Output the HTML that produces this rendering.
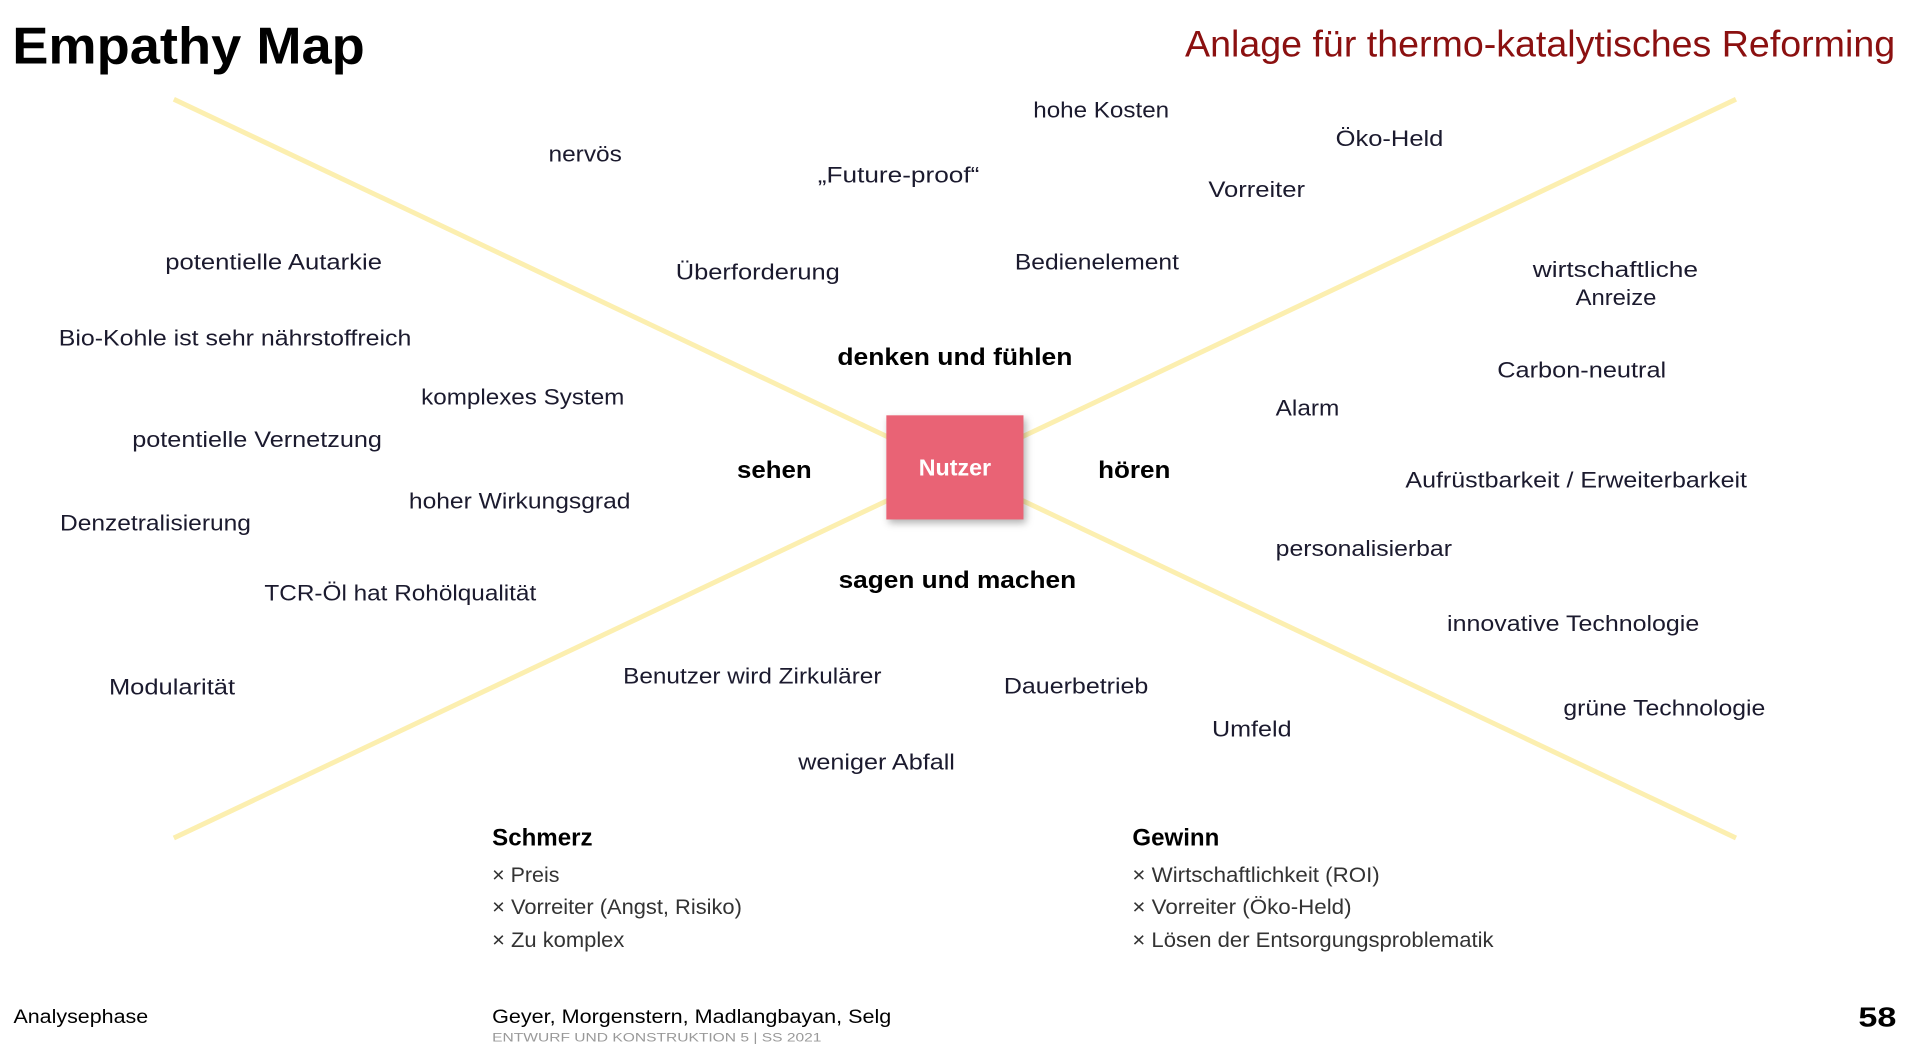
<!DOCTYPE html>
<html><head><meta charset="utf-8"><style>
html,body{margin:0;padding:0;background:#fff;}
svg{display:block;}
text{font-family:"Liberation Sans",sans-serif;fill:#1b1a2e;font-size:18px;}
.b{font-weight:bold;fill:#000;font-size:20px;}
.l{fill:#333;font-size:17px;}
</style></head><body>
<svg width="1919" height="1047" viewBox="0 0 1567.5 854.6" preserveAspectRatio="none" xmlns="http://www.w3.org/2000/svg">
<defs><filter id="sh" x="-20%" y="-20%" width="150%" height="150%"><feDropShadow dx="2" dy="3" stdDeviation="3" flood-color="#000" flood-opacity="0.3"/></filter></defs>
<line x1="142" y1="81" x2="1418" y2="684" stroke="#fcefb0" stroke-width="4"/>
<line x1="142" y1="684" x2="1418" y2="81" stroke="#fcefb0" stroke-width="4"/>
<rect x="724" y="339" width="112" height="85" fill="#e96375" filter="url(#sh)"/>
<text x="780" y="388" text-anchor="middle" style="fill:#fff;font-weight:bold;font-size:19px">Nutzer</text>
<text x="10" y="52" textLength="288" lengthAdjust="spacingAndGlyphs" style="font-weight:bold;font-size:42px;fill:#000">Empathy Map</text>
<text x="968" y="46" textLength="580" lengthAdjust="spacingAndGlyphs" style="font-size:30px;fill:#8b1010">Anlage für thermo-katalytisches Reforming</text>
<text x="448" y="132" textLength="60" lengthAdjust="spacingAndGlyphs">nervös</text>
<text x="668" y="149" textLength="132" lengthAdjust="spacingAndGlyphs">„Future-proof“</text>
<text x="844" y="96" textLength="111" lengthAdjust="spacingAndGlyphs">hohe Kosten</text>
<text x="1091" y="119" textLength="88" lengthAdjust="spacingAndGlyphs">Öko-Held</text>
<text x="987" y="161" textLength="79" lengthAdjust="spacingAndGlyphs">Vorreiter</text>
<text x="135" y="220" textLength="177" lengthAdjust="spacingAndGlyphs">potentielle Autarkie</text>
<text x="552" y="228" textLength="134" lengthAdjust="spacingAndGlyphs">Überforderung</text>
<text x="829" y="220" textLength="134" lengthAdjust="spacingAndGlyphs">Bedienelement</text>
<text x="1252" y="226" textLength="135" lengthAdjust="spacingAndGlyphs">wirtschaftliche</text>
<text x="1287" y="249" textLength="66" lengthAdjust="spacingAndGlyphs">Anreize</text>
<text x="48" y="282" textLength="288" lengthAdjust="spacingAndGlyphs">Bio-Kohle ist sehr nährstoffreich</text>
<text class="b" x="684" y="298" textLength="192" lengthAdjust="spacingAndGlyphs">denken und fühlen</text>
<text x="1223" y="308" textLength="138" lengthAdjust="spacingAndGlyphs">Carbon-neutral</text>
<text x="344" y="330" textLength="166" lengthAdjust="spacingAndGlyphs">komplexes System</text>
<text x="1042" y="339" textLength="52" lengthAdjust="spacingAndGlyphs">Alarm</text>
<text x="108" y="365" textLength="204" lengthAdjust="spacingAndGlyphs">potentielle Vernetzung</text>
<text class="b" x="602" y="390" textLength="61" lengthAdjust="spacingAndGlyphs">sehen</text>
<text class="b" x="897" y="390" textLength="59" lengthAdjust="spacingAndGlyphs">hören</text>
<text x="1148" y="398" textLength="279" lengthAdjust="spacingAndGlyphs">Aufrüstbarkeit / Erweiterbarkeit</text>
<text x="334" y="415" textLength="181" lengthAdjust="spacingAndGlyphs">hoher Wirkungsgrad</text>
<text x="49" y="433" textLength="156" lengthAdjust="spacingAndGlyphs">Denzetralisierung</text>
<text x="1042" y="454" textLength="144" lengthAdjust="spacingAndGlyphs">personalisierbar</text>
<text class="b" x="685" y="480" textLength="194" lengthAdjust="spacingAndGlyphs">sagen und machen</text>
<text x="216" y="490" textLength="222" lengthAdjust="spacingAndGlyphs">TCR-Öl hat Rohölqualität</text>
<text x="1182" y="515" textLength="206" lengthAdjust="spacingAndGlyphs">innovative Technologie</text>
<text x="509" y="558" textLength="211" lengthAdjust="spacingAndGlyphs">Benutzer wird Zirkulärer</text>
<text x="89" y="567" textLength="103" lengthAdjust="spacingAndGlyphs">Modularität</text>
<text x="820" y="566" textLength="118" lengthAdjust="spacingAndGlyphs">Dauerbetrieb</text>
<text x="1277" y="584" textLength="165" lengthAdjust="spacingAndGlyphs">grüne Technologie</text>
<text x="990" y="601" textLength="65" lengthAdjust="spacingAndGlyphs">Umfeld</text>
<text x="652" y="628" textLength="128" lengthAdjust="spacingAndGlyphs">weniger Abfall</text>
<text class="b" x="402" y="690" textLength="82" lengthAdjust="spacingAndGlyphs">Schmerz</text>
<text class="l" x="402" y="720" textLength="55" lengthAdjust="spacingAndGlyphs">× Preis</text>
<text class="l" x="402" y="746" textLength="204" lengthAdjust="spacingAndGlyphs">× Vorreiter (Angst, Risiko)</text>
<text class="l" x="402" y="773" textLength="108" lengthAdjust="spacingAndGlyphs">× Zu komplex</text>
<text class="b" x="925" y="690" textLength="71" lengthAdjust="spacingAndGlyphs">Gewinn</text>
<text class="l" x="925" y="720" textLength="202" lengthAdjust="spacingAndGlyphs">× Wirtschaftlichkeit (ROI)</text>
<text class="l" x="925" y="746" textLength="179" lengthAdjust="spacingAndGlyphs">× Vorreiter (Öko-Held)</text>
<text class="l" x="925" y="773" textLength="295" lengthAdjust="spacingAndGlyphs">× Lösen der Entsorgungsproblematik</text>
<text x="11" y="835" textLength="110" lengthAdjust="spacingAndGlyphs" style="font-size:16px;fill:#000">Analysephase</text>
<text x="402" y="835" textLength="326" lengthAdjust="spacingAndGlyphs" style="font-size:16px;fill:#000">Geyer, Morgenstern, Madlangbayan, Selg</text>
<text x="402" y="850" textLength="269" lengthAdjust="spacingAndGlyphs" style="font-size:10px;fill:#999">ENTWURF UND KONSTRUKTION 5 | SS 2021</text>
<text x="1518" y="838" textLength="31" lengthAdjust="spacingAndGlyphs" style="font-size:23px;font-weight:bold;fill:#000">58</text>
</svg>
</body></html>
